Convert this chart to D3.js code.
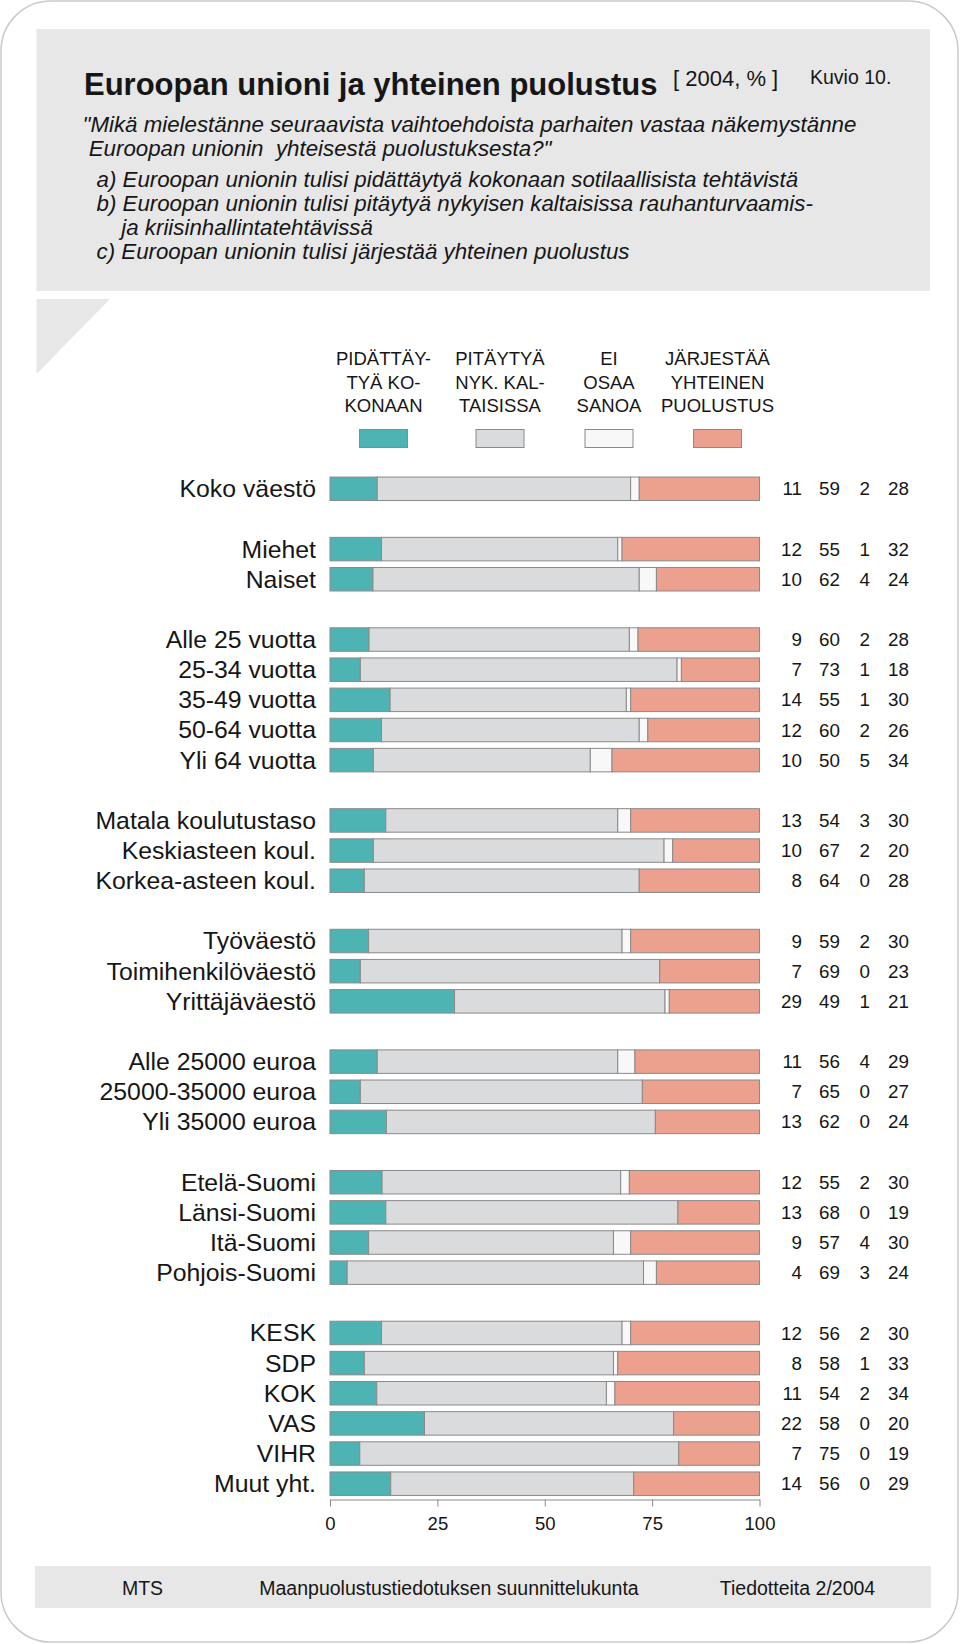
<!DOCTYPE html>
<html>
<head>
<meta charset="utf-8">
<script src="https://cdn.jsdelivr.net/npm/d3@7"></script>
<style>
  html, body { margin: 0; padding: 0; background: #fff; }
  svg { display: block; font-family: "Liberation Sans", Arial, Helvetica, sans-serif; }
</style>
</head>
<body>
<svg id="chart" width="960" height="1644"></svg>
<script>
// ---- data ----
const categories = [
  "Koko väestö",
  "Miehet", "Naiset",
  "Alle 25 vuotta", "25-34 vuotta", "35-49 vuotta", "50-64 vuotta", "Yli 64 vuotta",
  "Matala koulutustaso", "Keskiasteen koul.", "Korkea-asteen koul.",
  "Työväestö", "Toimihenkilöväestö", "Yrittäjäväestö",
  "Alle 25000 euroa", "25000-35000 euroa", "Yli 35000 euroa",
  "Etelä-Suomi", "Länsi-Suomi", "Itä-Suomi", "Pohjois-Suomi",
  "KESK", "SDP", "KOK", "VAS", "VIHR", "Muut yht."
];
const groupOf = [0, 1,1, 2,2,2,2,2, 3,3,3, 4,4,4, 5,5,5, 6,6,6,6, 7,7,7,7,7,7];
const pidattaytya = [11, 12,10, 9,7,14,12,10, 13,10,8, 9,7,29, 11,7,13, 12,13,9,4, 12,8,11,22,7,14];
const pitaytya    = [59, 55,62, 60,73,55,60,50, 54,67,64, 59,69,49, 56,65,62, 55,68,57,69, 56,58,54,58,75,56];
const eiOsaa      = [2,  1,4,   2,1,1,2,5,      3,2,0,    2,0,1,    4,0,0,    2,0,4,3,     2,1,2,0,0,0];
const jarjestaa   = [28, 32,24, 28,18,30,26,34, 30,20,28, 30,23,21, 29,27,24, 30,19,30,24, 30,33,34,20,19,29];
const seriesNames = [
  ["PIDÄTTÄY-", "TYÄ KO-", "KONAAN"],
  ["PITÄYTYÄ", "NYK. KAL-", "TAISISSA"],
  ["EI", "OSAA", "SANOA"],
  ["JÄRJESTÄÄ", "YHTEINEN", "PUOLUSTUS"]
];
const seriesColors = ["#4db4b3", "#dadbdd", "#f8f8f8", "#eca08e"];
const xTicks = [0, 25, 50, 75, 100];
const titleText = "Euroopan unioni ja yhteinen puolustus";
const subtitleText = "[ 2004, % ]";
const figText = "Kuvio 10.";
const questionLines = [
  "\"Mikä mielestänne seuraavista vaihtoehdoista parhaiten vastaa näkemystänne",
  " Euroopan unionin  yhteisestä puolustuksesta?\""
];
const optionLines = [
  "a) Euroopan unionin tulisi pidättäytyä kokonaan sotilaallisista tehtävistä",
  "b) Euroopan unionin tulisi pitäytyä nykyisen kaltaisissa rauhanturvaamis-",
  "    ja kriisinhallintatehtävissä",
  "c) Euroopan unionin tulisi järjestää yhteinen puolustus"
];
const footerTexts = ["MTS", "Maanpuolustustiedotuksen suunnittelukunta", "Tiedotteita 2/2004"];

// ---- build table ----
const seriesArrays = [pidattaytya, pitaytya, eiOsaa, jarjestaa];
const rows = categories.map((c, i) => {
  const vals = seriesArrays.map(a => a[i]);
  return { cat: c, slot: i + groupOf[i], vals, total: d3.sum(vals) };
});

const svg = d3.select("#chart");

// outer rounded frame
svg.append("rect").attr("x", 1).attr("y", 1).attr("width", 957).attr("height", 1641)
  .attr("rx", 50).attr("ry", 50).attr("fill", "#fff").attr("stroke", "#cacaca").attr("stroke-width", 1.5);

// header box
svg.append("rect").attr("x", 36.5).attr("y", 29).attr("width", 893.5).attr("height", 262).attr("fill", "#e7e7e7");
svg.append("path").attr("d", "M36.5,299 L110,299 L36.5,374 Z").attr("fill", "#e7e7e7");

svg.append("text").attr("x", 84).attr("y", 95).attr("font-size", 31).attr("font-weight", "bold")
  .attr("fill", "#161616").text(titleText);
svg.append("text").attr("x", 673).attr("y", 86).attr("font-size", 22).attr("fill", "#161616").text(subtitleText);
svg.append("text").attr("x", 810).attr("y", 84).attr("font-size", 19.5).attr("fill", "#161616").text(figText);

const qY = [131.5, 156];
questionLines.forEach((t, i) => {
  svg.append("text").attr("x", 82.5).attr("y", qY[i]).attr("font-size", 22.3).attr("font-style", "italic")
    .attr("fill", "#161616").attr("xml:space", "preserve").style("white-space", "pre").text(t);
});
const oY = [187, 211, 234.5, 258.5];
optionLines.forEach((t, i) => {
  svg.append("text").attr("x", 96.5).attr("y", oY[i]).attr("font-size", 22.3).attr("font-style", "italic")
    .attr("fill", "#161616").attr("xml:space", "preserve").style("white-space", "pre").text(t);
});

// ---- scales ----
const x = d3.scaleLinear().domain([0, 100]).range([330, 759.5]);
const y = d3.scaleLinear().domain([0, 33]).range([488.8, 1483.7]);
const barH = 23.5;

// legend
const legendX = [383.5, 500, 609, 717.5];
seriesNames.forEach((lines, si) => {
  lines.forEach((ln, li) => {
    svg.append("text").attr("x", legendX[si]).attr("y", 365 + li * 23.5).attr("text-anchor", "middle")
      .attr("font-size", 18.5).attr("fill", "#161616").text(ln);
  });
  svg.append("rect").attr("x", legendX[si] - 24).attr("y", 429.5).attr("width", 48).attr("height", 18)
    .attr("fill", seriesColors[si]).attr("stroke", "#8a8a8a").attr("stroke-width", 1);
});

// bars
const stackKeys = [0, 1, 2, 3];
const stackData = rows.map(r => {
  const o = { slot: r.slot };
  stackKeys.forEach(k => o[k] = r.vals[k] / r.total * 100);
  return o;
});
const stacked = d3.stack().keys(stackKeys)(stackData);
const gBars = svg.append("g");
stacked.forEach((layer, si) => {
  gBars.append("g").selectAll("rect").data(layer).join("rect")
    .attr("x", d => x(d[0]))
    .attr("y", d => y(d.data.slot) - barH / 2)
    .attr("width", d => Math.max(0, x(d[1]) - x(d[0])))
    .attr("height", barH)
    .attr("fill", seriesColors[si])
    .attr("stroke", "#8a8a8a").attr("stroke-width", 1);
});

// row labels
svg.append("g").selectAll("text").data(rows).join("text")
  .attr("x", 316).attr("y", d => y(d.slot)).attr("dy", "0.34em")
  .attr("text-anchor", "end").attr("font-size", 24.8).attr("fill", "#161616")
  .text(d => d.cat);

// value columns
const colX = [802, 840, 870, 909];
const gNums = svg.append("g");
rows.forEach(r => {
  r.vals.forEach((v, k) => {
    gNums.append("text").attr("x", colX[k]).attr("y", y(r.slot)).attr("dy", "0.35em")
      .attr("text-anchor", "end").attr("font-size", 18.8).attr("fill", "#161616").text(v);
  });
});

// axis
const axis = svg.append("g").attr("transform", "translate(0,1499.5)")
  .call(d3.axisBottom(x).tickValues(xTicks).tickSize(7).tickSizeOuter(0).tickPadding(10).tickFormat(d3.format("d")));
axis.select(".domain").attr("stroke", "#8a8a8a");
axis.selectAll(".tick line").attr("stroke", "#8a8a8a");
axis.selectAll(".tick text").attr("font-size", 18.5).attr("fill", "#161616")
  .attr("font-family", "'Liberation Sans', Arial, sans-serif");

// footer
svg.append("rect").attr("x", 35).attr("y", 1566).attr("width", 896).attr("height", 42).attr("fill", "#e7e7e7");
const footX = [142.5, 449, 797.5];
footerTexts.forEach((t, i) => {
  svg.append("text").attr("x", footX[i]).attr("y", 1594.5).attr("text-anchor", "middle")
    .attr("font-size", 19.5).attr("fill", "#161616").text(t);
});
</script>
</body>
</html>
